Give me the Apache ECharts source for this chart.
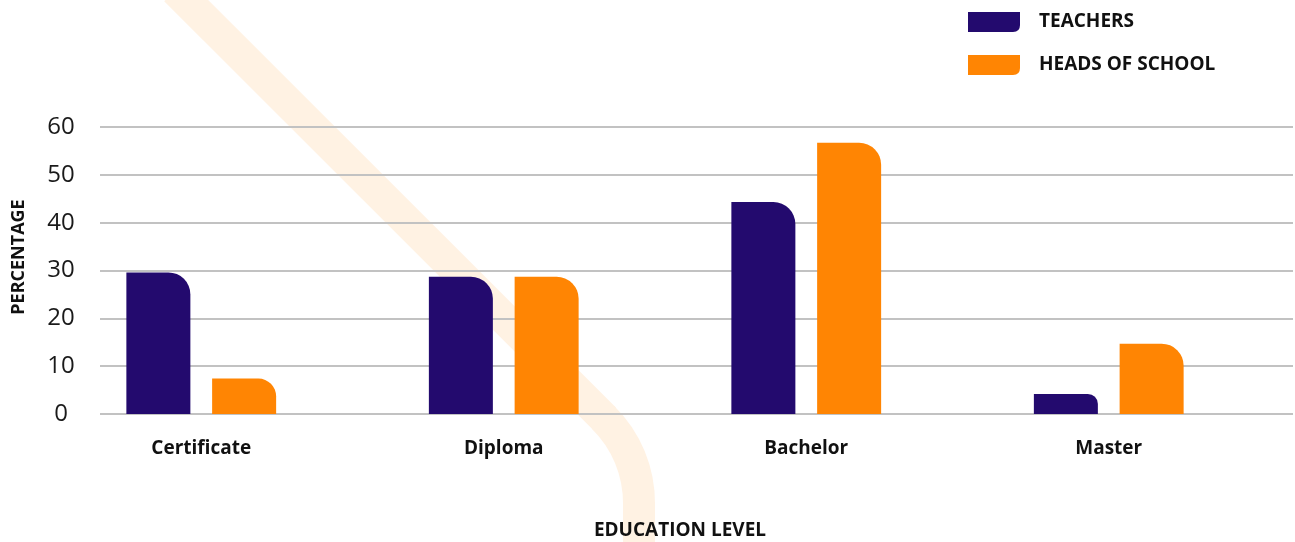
<!DOCTYPE html>
<html>
<head>
<meta charset="utf-8">
<script src="https://cdn.jsdelivr.net/npm/echarts@6/dist/echarts.min.js"></script>
<style>
  html, body { margin: 0; padding: 0; background: #fff; }
  #chart { width: 1295px; height: 542px; }
</style>
</head>
<body>
<div id="chart"></div>
<script>
// Education level of teachers and heads of school (percent)
const categories = ['Certificate', 'Diploma', 'Bachelor', 'Master'];
const teachers = [29.6, 28.7, 44.3, 4.2];
const headsOfSchool = [7.4, 28.7, 56.7, 14.7];
const yTicks = [0, 10, 20, 30, 40, 50, 60];

const INDIGO = '#230a6e';
const ORANGE = '#ff8503';
const RIBBON = '#fff2e3';
const FONT = 'Open Sans';

// legend swatch: flat top, rounded bottom-right corner
const swatch = 'path://M0,0 H52 V13 Q52,20 45,20 H0 Z';

const chart = echarts.init(document.getElementById('chart'), null, { renderer: 'canvas' });

function barItems(values) {
  return values.map(v => ({
    value: v,
    itemStyle: { borderRadius: [0, Math.min(22, v * 2.4), 0, 0] }
  }));
}

const ribbonStyle = { fill: null, stroke: RIBBON, lineWidth: 32 };

chart.setOption({
  animation: false,
  backgroundColor: '#ffffff',
  textStyle: { fontFamily: FONT },
  graphic: [
    // decorative background ribbon: diagonal, bend, vertical drop
    { type: 'line', z: -10, silent: true,
      shape: { x1: 175.5, y1: -10, x2: 604.6, y2: 418.8 }, style: ribbonStyle },
    { type: 'arc', z: -10, silent: true,
      shape: { cx: 519, cy: 503, r: 120, startAngle: -Math.PI / 4 - 0.01, endAngle: 0.01, clockwise: true },
      style: ribbonStyle },
    { type: 'line', z: -10, silent: true,
      shape: { x1: 639, y1: 502, x2: 639, y2: 560 }, style: ribbonStyle },
    {
      type: 'text', x: 19, y: 257, rotation: Math.PI / 2,
      style: {
        text: 'PERCENTAGE', fill: '#111', font: 'bold 18px "' + FONT + '"',
        textAlign: 'center', textVerticalAlign: 'middle'
      }
    },
    {
      type: 'text', x: 680, y: 531,
      style: {
        text: 'EDUCATION LEVEL', fill: '#111', font: 'bold 19px "' + FONT + '"',
        textAlign: 'center', textVerticalAlign: 'middle'
      }
    }
  ],
  legend: {
    orient: 'vertical',
    left: 968, top: 12, padding: 0,
    itemWidth: 52, itemHeight: 20, itemGap: 23,
    icon: swatch,
    textStyle: { fontFamily: FONT, fontWeight: 'bold', fontSize: 19, color: '#111', padding: [0, 0, 0, 14] },
    data: ['TEACHERS', 'HEADS OF SCHOOL']
  },
  grid: [
    // grid holding the value scale and horizontal rules
    { left: 100, right: 2, top: 127, bottom: 128 },
    // grid holding the category bars
    { left: 50, right: 35, top: 127, bottom: 128 }
  ],
  xAxis: [
    { gridIndex: 0, type: 'value', show: false, min: 0, max: 1 },
    {
      gridIndex: 1, type: 'category', data: categories,
      axisLine: { show: false }, axisTick: { show: false },
      axisLabel: { margin: 25, fontFamily: FONT, fontWeight: 'bold', fontSize: 19, color: '#111' }
    }
  ],
  yAxis: [
    {
      gridIndex: 0, type: 'value', min: yTicks[0], max: yTicks[yTicks.length - 1], interval: 10,
      axisLine: { show: false }, axisTick: { show: false },
      axisLabel: { margin: 39, align: 'center', fontFamily: FONT, fontSize: 24, color: '#1a1a1a' },
      splitLine: { lineStyle: { color: '#c2c2c2', width: 2 } }
    },
    {
      gridIndex: 1, type: 'value', min: yTicks[0], max: yTicks[yTicks.length - 1], interval: 10,
      show: false, splitLine: { show: false }
    }
  ],
  series: [
    {
      name: 'TEACHERS', type: 'bar', xAxisIndex: 1, yAxisIndex: 1,
      barWidth: 64, barGap: '34%',
      itemStyle: { color: INDIGO },
      data: barItems(teachers)
    },
    {
      name: 'HEADS OF SCHOOL', type: 'bar', xAxisIndex: 1, yAxisIndex: 1,
      barWidth: 64, barGap: '34%',
      itemStyle: { color: ORANGE },
      data: barItems(headsOfSchool)
    }
  ]
});
</script>
</body>
</html>
